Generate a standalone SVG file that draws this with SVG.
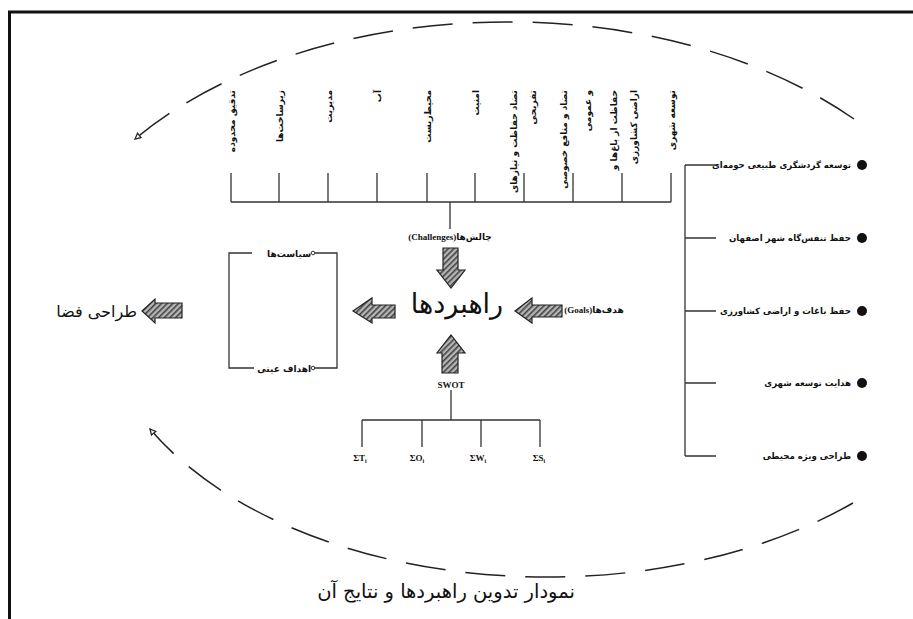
<svg xmlns="http://www.w3.org/2000/svg" width="913" height="619" viewBox="0 0 913 619">
<style>
.ln{stroke:#333;stroke-width:1.3;fill:none}
.fa{font-family:"DejaVu Sans",sans-serif;fill:#111}
.sm{font-size:9px;font-weight:bold}
.rl{font-size:8.6px;font-weight:bold}
.en{font-family:"Liberation Serif",serif;font-weight:bold;font-size:9px;fill:#111}
.arw{fill:url(#hatch);stroke:#222;stroke-width:1.2}
.dash{stroke:#222;stroke-width:1.5;fill:none;stroke-dasharray:40 20}
</style>
<defs>
<pattern id="hatch" width="4" height="4" patternUnits="userSpaceOnUse" patternTransform="rotate(45)">
<rect width="4" height="4" fill="#b5b5b5"/>
<line x1="0.8" y1="0" x2="0.8" y2="4" stroke="#333" stroke-width="1.4"/>
</pattern>
<marker id="ah" viewBox="0 0 10 10" refX="9" refY="5" markerWidth="7" markerHeight="7" orient="auto" markerUnits="userSpaceOnUse">
<path d="M1,1 L9,5 L1,9 z" fill="#fff" stroke="#222" stroke-width="1.8"/>
</marker>
</defs>
<rect width="913" height="619" fill="#fff"/>
<path d="M9.5,619 V12 H913" stroke="#111" stroke-width="3" fill="none"/>

<g id="connectors">
<path class="dash" d="M854,119 A469,298 0 0 0 135,139" marker-end="url(#ah)"/>
<path class="dash" d="M853,503 A449,277 0 0 1 150,429" marker-end="url(#ah)"/>
<path class="ln" d="M231,202 H671 M231,173 V202 M279,173 V202 M328,173 V202 M377,173 V202 M427,173 V202 M475,173 V202 M524,173 V202 M573,173 V202 M622,173 V202 M671,173 V202 M450,202 V229"/>
<path class="ln" d="M685,165 V456 M685,165 H716 M685,238 H716 M685,311 H716 M685,383 H716 M685,456 H716"/>
<path class="ln" d="M451,390 V420 M362,420 H540 M362,420 V447 M422,420 V447 M481,420 V447 M540,420 V447"/>
<path class="ln" d="M252,253 H229 V368 H254 M315,253 H337 V368 H315"/>
</g>

<g id="challenges">
<text class="fa sm" text-anchor="end" transform="translate(234.5,90) rotate(-90)">تدقیق محدوده</text>
<text class="fa sm" text-anchor="end" transform="translate(282.5,90) rotate(-90)">زیرساخت‌ها</text>
<text class="fa sm" text-anchor="end" transform="translate(331.5,90) rotate(-90)">مدیریت</text>
<text class="fa sm" text-anchor="end" transform="translate(380.5,90) rotate(-90)">آب</text>
<text class="fa sm" text-anchor="end" transform="translate(430.5,90) rotate(-90)">محیط‌زیست</text>
<text class="fa sm" text-anchor="end" transform="translate(478.5,90) rotate(-90)">امنیت</text>
<text class="fa sm" text-anchor="end" transform="translate(516.5,90) rotate(-90)">تضاد حفاظت و نیازهای</text>
<text class="fa sm" text-anchor="end" transform="translate(535.5,90) rotate(-90)">تفریحی</text>
<text class="fa sm" text-anchor="end" transform="translate(566.5,90) rotate(-90)">تضاد و منافع خصوصی</text>
<text class="fa sm" text-anchor="end" transform="translate(590.5,90) rotate(-90)">و عمومی</text>
<text class="fa sm" text-anchor="end" transform="translate(616.5,90) rotate(-90)">حفاظت از باغ‌ها و</text>
<text class="fa sm" text-anchor="end" transform="translate(636.5,90) rotate(-90)">اراضی کشاورزی</text>
<text class="fa sm" text-anchor="end" transform="translate(674.5,90) rotate(-90)">توسعه شهری</text>
</g>

<g id="goals-list">
<g fill="#111"><circle cx="862" cy="165" r="5"/><circle cx="862" cy="238" r="5"/><circle cx="862" cy="311" r="5"/><circle cx="862" cy="383" r="5"/><circle cx="862" cy="456" r="5"/></g>
<text class="fa rl" text-anchor="end" x="851" y="168">توسعه گردشگری طبیعی حومه‌ای</text>
<text class="fa rl" text-anchor="end" x="851" y="241">حفظ تنفس‌گاه شهر اصفهان</text>
<text class="fa rl" text-anchor="end" x="851" y="314">حفظ باغات و اراضی کشاورزی</text>
<text class="fa rl" text-anchor="end" x="851" y="386">هدایت توسعه شهری</text>
<text class="fa rl" text-anchor="end" x="851" y="459">طراحی ویژه محیطی</text>
</g>

<g id="center">
<text class="fa" font-size="27" text-anchor="middle" x="457" y="313">راهبردها</text>
</g>

<g id="arrow-challenges">
<text x="450" y="240" text-anchor="middle"><tspan class="en">(Challenges)</tspan><tspan class="fa" font-size="9" font-weight="bold">چالش‌ها</tspan></text>
<polygon class="arw" points="443,248 458,248 458,270 465,270 451,288 437,270 443,270"/>
</g>

<g id="arrow-goals">
<polygon class="arw" points="562,305 562,317 532,317 532,323 515,311 532,298 532,305"/>
<text x="594" y="313" text-anchor="middle"><tspan class="en">(Goals)</tspan><tspan class="fa" font-size="9" font-weight="bold">هدف‌ها</tspan></text>
</g>

<g id="arrow-swot">
<polygon class="arw" points="442,373 458,373 458,353 465,353 451,335 437,353 442,353"/>
<text class="en" x="451" y="388" text-anchor="middle">SWOT</text>
</g>

<g id="swot-items">
<text class="en" x="360" y="461" text-anchor="middle">ΣT<tspan font-size="6" dy="2">i</tspan></text>
<text class="en" x="417" y="461" text-anchor="middle">ΣO<tspan font-size="6" dy="2">i</tspan></text>
<text class="en" x="478" y="461" text-anchor="middle">ΣW<tspan font-size="6" dy="2">i</tspan></text>
<text class="en" x="539" y="461" text-anchor="middle">ΣS<tspan font-size="6" dy="2">i</tspan></text>
</g>

<g id="arrow-out">
<polygon class="arw" points="395,305 395,318 372,318 372,323 353,311 372,298 372,305"/>
</g>

<g id="policy-box">
<circle cx="313" cy="253" r="1.8" fill="#fff" stroke="#333" stroke-width="1"/>
<circle cx="313" cy="368" r="1.8" fill="#fff" stroke="#333" stroke-width="1"/>
<text class="fa sm" text-anchor="end" x="311" y="256.5">سیاست‌ها</text>
<text class="fa sm" text-anchor="end" x="311" y="371.5">اهداف عینی</text>
</g>

<g id="arrow-space">
<polygon class="arw" points="182,303 182,318 155,318 155,323 142,311 155,299 155,303"/>
<text class="fa" font-size="16" text-anchor="end" x="137" y="317">طراحی فضا</text>
</g>

<g id="title">
<text class="fa" font-size="19.5" text-anchor="middle" x="446" y="598">نمودار تدوین راهبردها و نتایج آن</text>
</g>
</svg>
